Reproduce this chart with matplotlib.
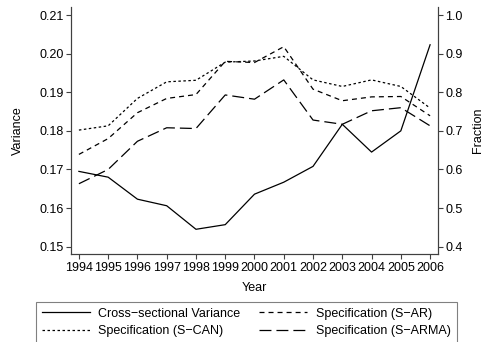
import matplotlib
matplotlib.use("Agg")
import matplotlib.pyplot as plt

plt.rcParams['font.family'] = ['Liberation Sans', 'DejaVu Sans']
plt.rcParams['font.size'] = 9
plt.rcParams['lines.scale_dashes'] = False

years = [1994, 1995, 1996, 1997, 1998, 1999, 2000, 2001, 2002, 2003, 2004, 2005, 2006]
cross_var = [0.1695, 0.1680, 0.1623, 0.1606, 0.1545, 0.1557, 0.1636, 0.1667, 0.1708, 0.1817, 0.1745, 0.1800, 0.2023]
spec_can = [0.702, 0.713, 0.784, 0.827, 0.831, 0.878, 0.881, 0.893, 0.832, 0.815, 0.832, 0.815, 0.759]
spec_ar = [0.639, 0.680, 0.747, 0.784, 0.794, 0.880, 0.877, 0.918, 0.808, 0.778, 0.788, 0.789, 0.739]
spec_arma = [0.563, 0.600, 0.673, 0.708, 0.706, 0.793, 0.782, 0.832, 0.728, 0.717, 0.752, 0.760, 0.713]

left_ticks = [0.15, 0.16, 0.17, 0.18, 0.19, 0.20, 0.21]
right_ticks = [0.4, 0.5, 0.6, 0.7, 0.8, 0.9, 1.0]

fig = plt.figure(figsize=(4.97, 3.42), dpi=100)
ax = fig.add_axes([71/497, 1-254/342, (437.7-71)/497, (254-7)/342])
ax2 = ax.twinx()

lw = 0.9
l1, = ax.plot(years, cross_var, color='black', lw=lw, linestyle='-')
l2, = ax2.plot(years, spec_can, color='black', lw=lw, linestyle=(0, (1.8, 1.8)))
l3, = ax2.plot(years, spec_ar, color='black', lw=lw, linestyle=(0, (3.6, 2.9)))
l4, = ax2.plot(years, spec_arma, color='black', lw=lw, linestyle=(0, (8.6, 3.6)))

ax.set_xlim(1993.73, 2006.26)
lo = 0.15 - 7.3/3840
hi = 0.21 + 8/3840
ax.set_ylim(lo, hi)
ax2.set_ylim(0.4 + (lo-0.15)*10, 0.4 + (hi-0.15)*10)

ax.set_xticks(years)
ax.set_xticklabels([str(y) for y in years])
ax.set_yticks(left_ticks)
ax.set_yticklabels(['%.2f' % t for t in left_ticks])
ax2.set_yticks(right_ticks)
ax2.set_yticklabels(['%.1f' % t for t in right_ticks])

for a in (ax, ax2):
    a.spines['top'].set_visible(False)
    for s in ('left', 'right', 'bottom'):
        a.spines[s].set_color('#404040')
        a.spines[s].set_linewidth(0.8)
    a.tick_params(length=3.5, width=0.8, color='#404040', labelsize=9, pad=2)
ax.tick_params(axis='y', pad=1.5)

ax.set_xlabel('Year', fontsize=9, labelpad=6)
ax.set_ylabel('Variance', fontsize=9, labelpad=11)
ax2.set_ylabel('Fraction', fontsize=9, labelpad=7)

leg = fig.legend([l1, l2, l3, l4],
                 ['Cross\u2212sectional Variance', 'Specification (S\u2212CAN)',
                  'Specification (S\u2212AR)', 'Specification (S\u2212ARMA)'],
                 ncol=2, loc='upper left', bbox_to_anchor=(36/497, 1-301.5/342),
                 frameon=True, fancybox=False, handlelength=3.8, handletextpad=0.7,
                 columnspacing=1.5, labelspacing=0.45, borderpad=0.5, fontsize=9,
                 borderaxespad=0)
leg.get_frame().set_edgecolor('#606060')
leg.get_frame().set_linewidth(0.8)

fig.savefig('out.png', dpi=100)
